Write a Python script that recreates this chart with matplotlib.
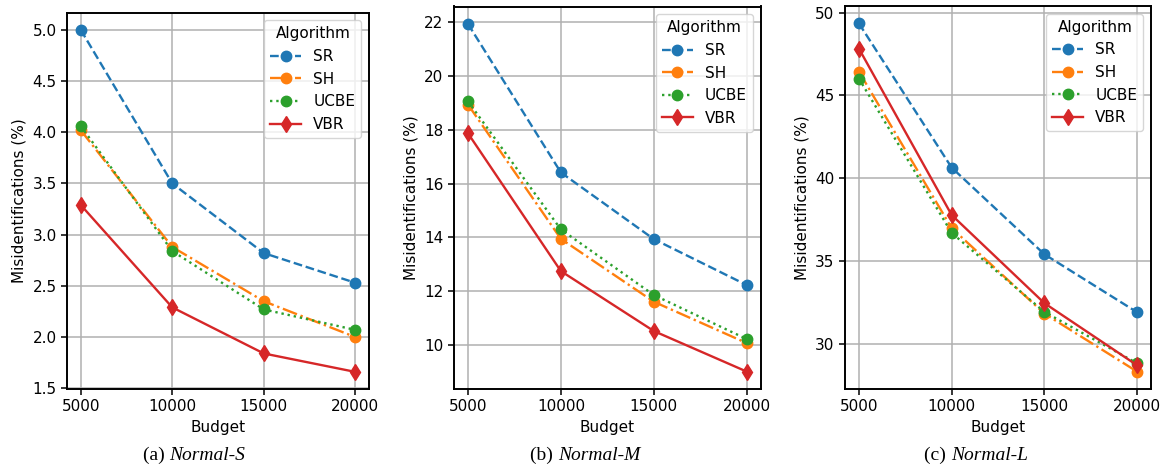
import numpy as np
import matplotlib.pyplot as plt

# Budgets on the x axis
budgets = [5000, 10000, 15000, 20000]
algorithms = ["SR", "SH", "UCBE", "VBR"]

# Misidentification rates (%)
normal_s = {
    "SR": [5.00, 3.50, 2.82, 2.53],
    "SH": [4.02, 2.88, 2.35, 2.00],
    "UCBE": [4.06, 2.84, 2.27, 2.07],
    "VBR": [3.29, 2.29, 1.84, 1.66],
}
normal_m = {
    "SR": [21.94, 16.41, 13.93, 12.22],
    "SH": [18.94, 13.94, 11.60, 10.06],
    "UCBE": [19.06, 14.29, 11.85, 10.21],
    "VBR": [17.87, 12.74, 10.51, 9.00],
}
normal_l = {
    "SR": [49.35, 40.65, 35.42, 31.92],
    "SH": [46.44, 37.00, 31.84, 28.34],
    "UCBE": [46.02, 36.71, 31.94, 28.84],
    "VBR": [47.83, 37.79, 32.47, 28.72],
}
panels = [("(a) ", "Normal-S", normal_s),
          ("(b) ", "Normal-M", normal_m),
          ("(c) ", "Normal-L", normal_l)]

styles = {
    "SR": dict(color="tab:blue", linestyle="--", marker="o", markersize=7.5),
    "SH": dict(color="tab:orange", linestyle="-.", marker="o", markersize=7.5),
    "UCBE": dict(color="tab:green", linestyle=":", marker="o", markersize=7.5),
    "VBR": dict(color="tab:red", linestyle="-", marker="d", markersize=8.5),
}

plt.rcParams["font.size"] = 11

W, H = 1164, 466
fig = plt.figure(figsize=(W / 100, H / 100), dpi=100)

# axes boxes in pixels: left, right, top, bottom
boxes = [(67, 369, 12.7, 389), (454, 760.7, 6.5, 389), (845, 1151, 6, 389)]
caption_x = [143, 530, 924]

for (tag, name, data), (l, r, t, b), cx in zip(panels, boxes, caption_x):
    ax = fig.add_axes([l / W, 1 - b / H, (r - l) / W, (b - t) / H])
    for alg in algorithms:
        ax.plot(budgets, data[alg], label=alg, linewidth=1.7, **styles[alg])
    ax.set_xticks(budgets)
    ax.grid(True, color="#b0b0b0", linewidth=1.1)
    ax.set_axisbelow(True)
    for sp in ax.spines.values():
        sp.set_linewidth(1.4)
    ax.tick_params(labelsize=11, length=4, width=1.1)
    ax.set_xlabel("Budget", fontsize=11)
    ax.set_ylabel("Misidentifications (%)", fontsize=11)
    ax.legend(title="Algorithm", loc="upper right", fontsize=11, title_fontsize=11)

    t1 = fig.text(cx / W, 1 - 455 / H, tag, family="Liberation Serif",
                  fontsize=14, ha="left", va="center")
    ax.annotate(name, xy=(1, 0), xycoords=t1, ha="left", va="bottom",
                family="Liberation Serif", style="italic", fontsize=14,
                annotation_clip=False)

fig.savefig("out.png", dpi=100)
